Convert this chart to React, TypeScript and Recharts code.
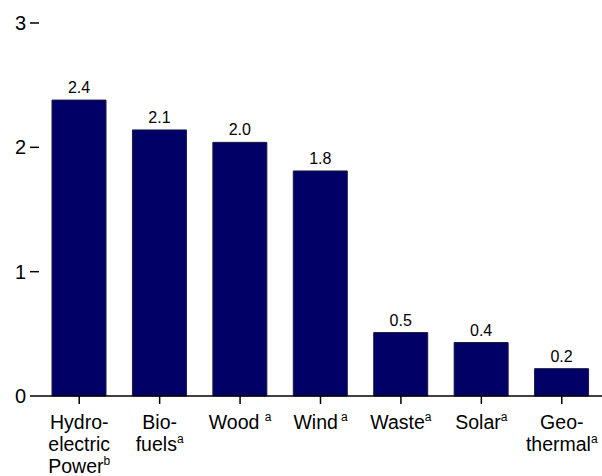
import React from 'react';
import { BarChart, Bar, XAxis, YAxis, LabelList } from 'recharts';

// renewable sources, consumption values
const sources = ['Hydro', 'Biofuels', 'Wood', 'Wind', 'Waste', 'Solar', 'Geothermal'];
const consumption = [2.38, 2.14, 2.04, 1.81, 0.51, 0.43, 0.22];

// tick label lines and footnote marks for each source
const labelLines: string[][] = [
  ['Hydro-', 'electric', 'Power'],
  ['Bio-', 'fuels'],
  ['Wood '],
  ['Wind'],
  ['Waste'],
  ['Solar'],
  ['Geo-', 'thermal'],
];
const footnotes = ['b', 'a', 'a', 'a', 'a', 'a', 'a'];
const footnoteGap = [0, 0, 0, 3, 0, 0, 0];

const yTicks = [0, 1, 2, 3];

const data = sources.map((name, i) => ({ name, value: consumption[i], idx: i }));

const FONT = '"Liberation Sans", Arial, Helvetica, sans-serif';

const SourceTick = (props: any) => {
  const { x, y, index } = props;
  const lines = labelLines[index] || [];
  return (
    <g transform={`translate(${x},${y})`}>
      {lines.map((line, li) => {
        const last = li === lines.length - 1;
        return (
          <text
            key={li}
            x={0}
            y={23 + li * 22}
            textAnchor="middle"
            fontSize={19.5}
            fontFamily={FONT}
            fill="#000"
          >
            {line}
            {last && (
              <tspan fontSize={12} dy={-8} dx={footnoteGap[index]}>
                {footnotes[index]}
              </tspan>
            )}
          </text>
        );
      })}
    </g>
  );
};

const App: React.FC = () => {
  return (
    <div style={{ position: 'absolute', left: 0, top: 0 }}>
      <BarChart
        width={602}
        height={476}
        data={data}
        margin={{ top: 23, right: 0, bottom: 0, left: 0 }}
        barSize={54}
      >
        <XAxis
          dataKey="name"
          height={80}
          interval={0}
          tick={<SourceTick />}
          tickSize={8}
          tickMargin={2}
          axisLine={{ stroke: '#000', strokeWidth: 1.5 }}
          tickLine={{ stroke: '#000', strokeWidth: 1.5 }}
        />
        <YAxis
          width={39}
          domain={[0, 3]}
          ticks={yTicks}
          axisLine={false}
          tickSize={9}
          tickMargin={4}
          tickLine={{ stroke: '#000', strokeWidth: 1.5 }}
          tick={{ fontSize: 20, fontFamily: FONT, fill: '#000' }}
        />
        <Bar
          dataKey="value"
          fill="#000066"
          stroke="#1a1a40"
          strokeWidth={1}
          isAnimationActive={false}
        >
          <LabelList
            dataKey="value"
            position="top"
            offset={7}
            formatter={(v: any) => Number(v).toFixed(1)}
            style={{ fontSize: 16, fontFamily: FONT, fill: '#000' }}
          />
        </Bar>
      </BarChart>
    </div>
  );
};

export default App;
